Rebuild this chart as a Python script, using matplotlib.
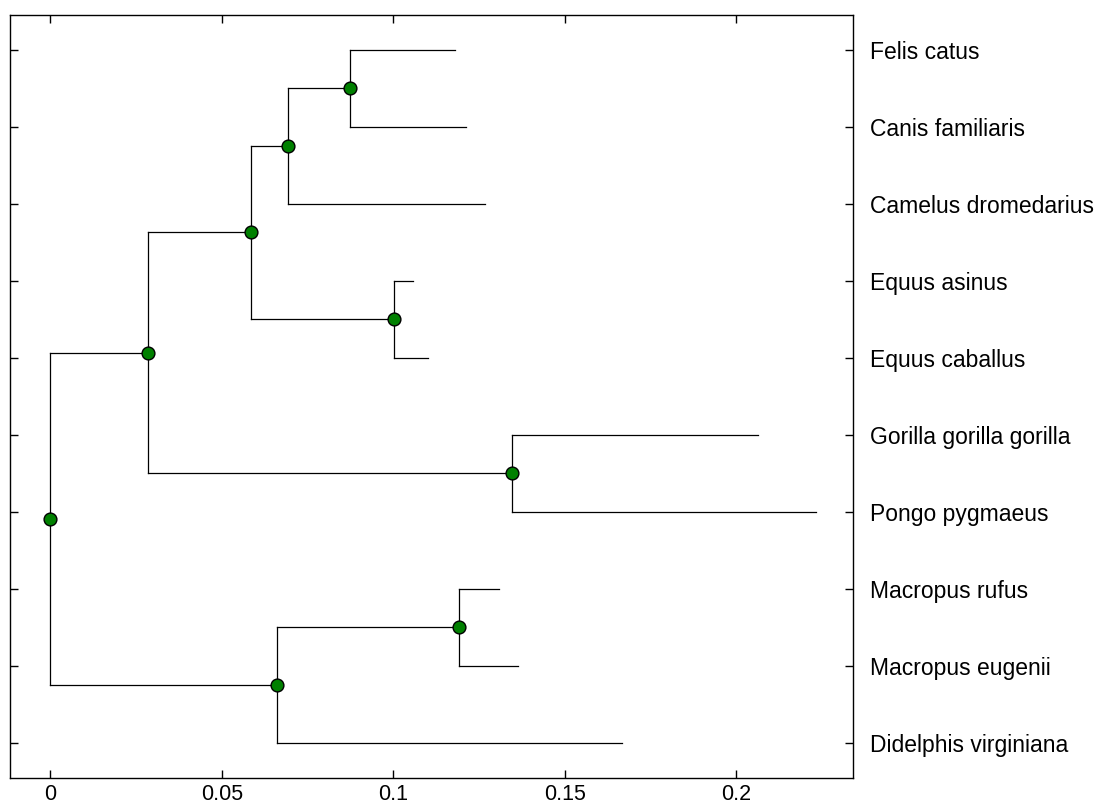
import numpy as np
import matplotlib.pyplot as plt

plt.rcParams['font.family'] = ['Liberation Sans', 'DejaVu Sans']

# leaves (top to bottom) and distance of each branch tip from the root
leaf_names = ['Felis catus', 'Canis familiaris', 'Camelus dromedarius',
              'Equus asinus', 'Equus caballus', 'Gorilla gorilla gorilla',
              'Pongo pygmaeus', 'Macropus rufus', 'Macropus eugenii',
              'Didelphis virginiana']
leaf_dist = [0.1178, 0.1212, 0.1268, 0.1056, 0.1101,
             0.2063, 0.2232, 0.1307, 0.1362, 0.1667]

# internal nodes: children (index < 10 -> leaf, else node 10+k) and distance
node_children = [(0, 1), (10, 2), (3, 4), (11, 12), (5, 6),
                 (13, 14), (7, 8), (16, 9), (15, 17)]
node_dist = [0.0873, 0.0692, 0.1001, 0.0585, 0.1345,
             0.0283, 0.1190, 0.0661, 0.0]

xticks = [0, 0.05, 0.1, 0.15, 0.2]
xtick_labels = ['0', '0.05', '0.1', '0.15', '0.2']

n_leaf = len(leaf_names)
xs = list(leaf_dist) + list(node_dist)
ys = list(np.arange(1, n_leaf + 1, dtype=float)) + [0.0] * len(node_dist)
# node sits halfway between its two children
for k, (a, b) in enumerate(node_children):
    ys[n_leaf + k] = (ys[a] + ys[b]) / 2.0

fig = plt.figure(figsize=(11.04, 8.10), dpi=100)
ax = fig.add_axes([0.0095, 0.0395, 0.7632, 0.942])

# branches
for k, (a, b) in enumerate(node_children):
    nx = xs[n_leaf + k]
    ax.plot([nx, nx], [ys[a], ys[b]], color='black', lw=0.9, zorder=1)
    for c in (a, b):
        ax.plot([nx, xs[c]], [ys[c], ys[c]], color='black', lw=0.9, zorder=1)

# internal nodes
ax.plot(node_dist, ys[n_leaf:], 'o', color='#008000', mec='black', mew=1.0,
        ms=9.2, ls='none', zorder=3)

ax.set_xlim(-0.01166, 0.2340)
ax.set_ylim(10.46, 0.55)

ax.set_xticks(xticks)
ax.set_xticklabels(xtick_labels)
ax.set_yticks(np.arange(1, n_leaf + 1))
ax.set_yticklabels(leaf_names)

ax.tick_params(axis='x', direction='in', top=True, bottom=True, length=6,
               width=1, labelsize=15.5, pad=4)
ax.tick_params(axis='y', direction='in', left=True, right=True, length=6,
               width=1, labelsize=16.5, labelleft=False, labelright=True, pad=12)
for s in ax.spines.values():
    s.set_linewidth(1.0)

fig.savefig('out.png', dpi=100)
